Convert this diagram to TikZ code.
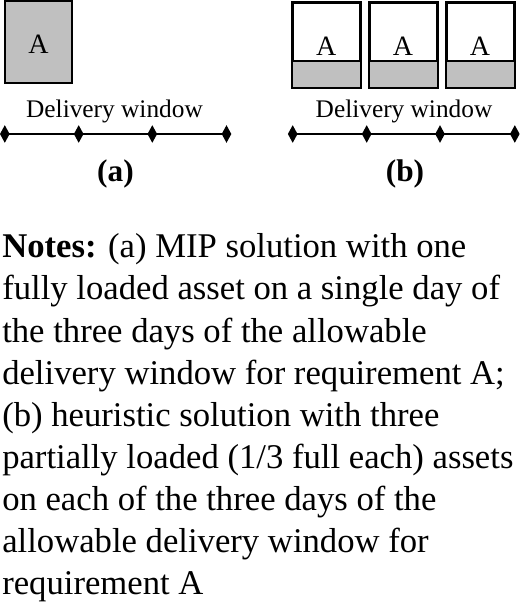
\documentclass[tikz,border=0pt]{standalone}
\usepackage{fontspec}
\setmainfont{Liberation Serif}
\definecolor{loadgray}{HTML}{C0C0C0}
\tikzset{
  px/.style={x=0.75pt,y=-0.75pt},
  asset/.style={draw=black,line width=1.5pt,minimum width=50.25pt,inner sep=0pt},
  tick/.style={fill=black},
  timeline/.style={line width=2pt},
  boxtext/.style={font=\fontsize{21}{25}\selectfont,inner sep=0pt,anchor=base},
  wintext/.style={font=\fontsize{19}{22}\selectfont,inner sep=0pt,anchor=base},
  captext/.style={font=\fontsize{23.5}{27}\selectfont\bfseries,inner sep=0pt,anchor=base},
  notetext/.style={font=\fontsize{26}{31.5}\selectfont,inner sep=0pt,anchor=base west}
}
\newcommand{\tickmark}[1]{\fill[tick] (#1) ++(-4.8,0) -- ++(4.8,-8.8) -- ++(4.8,8.8) -- ++(-4.8,8.8) -- cycle;}
\begin{document}
\begin{tikzpicture}[px]
\useasboundingbox (0,0) rectangle (520,605);
% (a)
\node[asset,fill=loadgray,minimum height=61.5pt] (boxa) at (38.5,42) {};
\node[boxtext] (la) at (38.5,53.5) {A};
\node[wintext] (wa) at (114.5,118) {Delivery window};
\coordinate (a1) at (4.8,134);
\coordinate (a2) at (78.7,134);
\coordinate (a3) at (152.3,134);
\coordinate (a4) at (226.5,134);
\draw[timeline] (a1) -- (a2) -- (a3) -- (a4);
\foreach \p in {a1,a2,a3,a4}{\tickmark{\p}}
\node[captext] (capa) at (115.5,182) {(a)};
% (b)
\foreach \i/\cx in {1/326.2,2/403,3/480}{
  \node[asset,fill=white,minimum height=63pt] (b\i) at (\cx,45) {};
  \fill[loadgray] (b\i.south west) rectangle (b\i.east |- 0,61);
  \draw[line width=1.5pt] (b\i.west |- 0,61) -- (b\i.east |- 0,61);
  \draw[asset] (b\i.south west) rectangle (b\i.north east);
  \node[boxtext] (lb\i) at (\cx,55.5) {A};
}
\node[wintext] (wb) at (404,118) {Delivery window};
\coordinate (c1) at (292.7,134);
\coordinate (c2) at (366.7,134);
\coordinate (c3) at (440,134);
\coordinate (c4) at (514.8,134);
\draw[timeline] (c1) -- (c2) -- (c3) -- (c4);
\foreach \p in {c1,c2,c3,c4}{\tickmark{\p}}
\node[captext] (capb) at (405,182) {(b)};
% notes
\node[notetext] (n1) at (2,258) {\textbf{Notes:} (a) MIP solution with one};
\node[notetext] (n2) at (2,300) {fully loaded asset on a single day of};
\node[notetext] (n3) at (2,342) {the three days of the allowable};
\node[notetext] (n4) at (2,384) {delivery window for requirement A;};
\node[notetext] (n5) at (2,426) {(b) heuristic solution with three};
\node[notetext] (n6) at (2,468) {partially loaded (1/3 full each) assets};
\node[notetext] (n7) at (2,510) {on each of the three days of the};
\node[notetext] (n8) at (2,552) {allowable delivery window for};
\node[notetext] (n9) at (2,594) {requirement A};
\end{tikzpicture}
\end{document}
